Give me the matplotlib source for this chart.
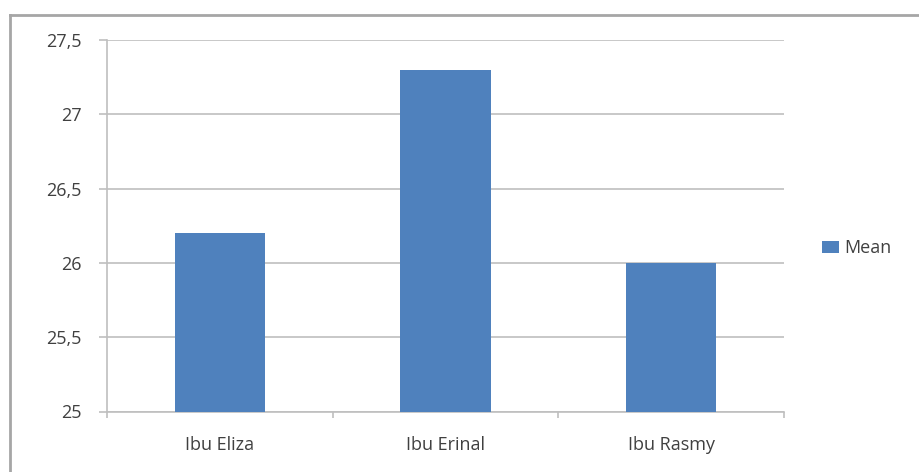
import matplotlib
matplotlib.use("Agg")
import matplotlib.pyplot as plt
from matplotlib.lines import Line2D
import numpy as np

categories = ["Ibu Eliza", "Ibu Erinal", "Ibu Rasmy"]
mean_values = [26.2, 27.3, 26.0]
y_ticks = [25, 25.5, 26, 26.5, 27, 27.5]
y_tick_labels = ["25", "25,5", "26", "26,5", "27", "27,5"]
series_name = "Mean"

plt.rcParams['font.family'] = ['Open Sans', 'DejaVu Sans']

W, H = 920, 472
fig = plt.figure(figsize=(W / 100, H / 100), dpi=100)
ax = fig.add_axes([107 / W, 1 - 411.5 / H, (784 - 107) / W, (411.5 - 40) / H])

x = np.arange(len(categories))
bars = ax.bar(x, mean_values, width=0.40, color="#4F81BD", label=series_name, zorder=3)

ax.set_ylim(25, 27.5)
ax.set_xlim(-0.5, len(categories) - 0.5)
ax.set_yticks(y_ticks)
ax.set_yticklabels(y_tick_labels)
ax.set_xticks(x)
ax.set_xticklabels(categories)
ax.set_xticks(np.arange(len(categories) + 1) - 0.5, minor=True)

grid_col = "#BFBFBF"
txt_col = "#404040"
fs = 13
ax.yaxis.grid(True, color=grid_col, linewidth=1.2, zorder=0)
ax.set_axisbelow(True)
for s in ["top", "right"]:
    ax.spines[s].set_visible(False)
for s in ["left", "bottom"]:
    ax.spines[s].set_color(grid_col)
    ax.spines[s].set_linewidth(1.2)

ax.tick_params(axis="y", length=6, color=grid_col, width=1.2, labelsize=fs, labelcolor=txt_col, pad=12)
ax.tick_params(axis="x", which="major", length=0, labelsize=fs, labelcolor=txt_col, pad=18)
ax.tick_params(axis="x", which="minor", length=4, color=grid_col, width=1.2)

leg = fig.legend(handles=[bars], labels=[series_name], loc="center left",
                 bbox_to_anchor=(822 / W, 1 - 248 / H), frameon=False,
                 fontsize=fs, handlelength=0.95, handleheight=0.65, handletextpad=0.3,
                 borderaxespad=0, borderpad=0)
for t in leg.get_texts():
    t.set_color(txt_col)

# outer chart border (top and left visible)
fig.add_artist(Line2D([10 / W, 10 / W], [0, 1 - 15 / H], transform=fig.transFigure,
                      color="#A6A6A6", linewidth=2))
fig.add_artist(Line2D([10 / W, 1], [1 - 15 / H, 1 - 15 / H], transform=fig.transFigure,
                      color="#A6A6A6", linewidth=2))

fig.savefig("out.png", dpi=100)
